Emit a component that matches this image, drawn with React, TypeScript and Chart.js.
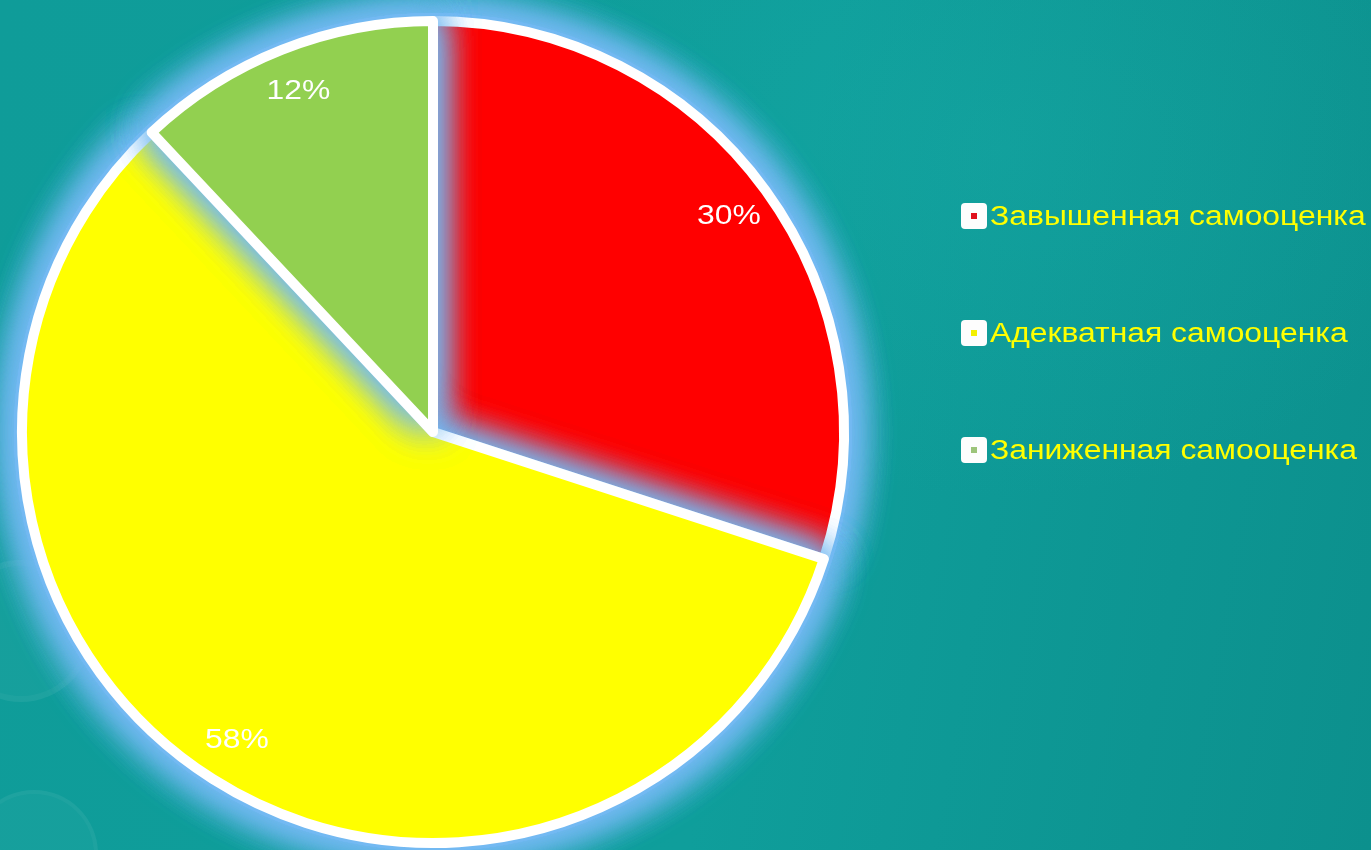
import React, { useEffect, useRef } from "react";
import { Chart, registerables } from "chart.js";

Chart.register(...registerables);

const categories = ["Завышенная самооценка", "Адекватная самооценка", "Заниженная самооценка"];
const values = [30, 58, 12];
const sliceColors = ["#ff0000", "#ffff00", "#92d050"];
const legendInnerColors = ["#e0101c", "#f4f000", "#9cc47a"];
const GLOW_COLOR = "rgba(115,185,242,1)";
const TEXT_STRETCH = 1.18;

const glowPlugin = {
  id: "glowSlices",
  beforeDatasetDraw(chart: any, args: any) {
    const ctx = chart.ctx;
    const meta = args.meta;
    meta.data.forEach((arc: any) => {
      const p = arc.getProps(["x", "y", "startAngle", "endAngle", "outerRadius"], true);
      const bw = arc.options.borderWidth || 0;
      ctx.save();
      ctx.shadowColor = GLOW_COLOR;
      ctx.shadowBlur = 40;
      ctx.shadowOffsetX = 0;
      ctx.shadowOffsetY = 0;
      ctx.fillStyle = GLOW_COLOR;
      for (let k = 0; k < 4; k++) {
        ctx.beginPath();
        ctx.moveTo(p.x, p.y);
        ctx.arc(p.x, p.y, p.outerRadius + bw / 2 + 3, p.startAngle, p.endAngle);
        ctx.closePath();
        ctx.fill();
      }
      ctx.restore();
      arc.draw(ctx, chart.chartArea);
    });
    return false;
  },
};

const labelPlugin = {
  id: "sliceLabels",
  afterDatasetsDraw(chart: any) {
    const ctx = chart.ctx;
    const meta = chart.getDatasetMeta(0);
    const data = chart.data.datasets[0].data;
    meta.data.forEach((arc: any, i: number) => {
      const p = arc.getProps(["x", "y", "startAngle", "endAngle", "outerRadius"], true);
      const mid = (p.startAngle + p.endAngle) / 2;
      const r = p.outerRadius * 0.89;
      const lx = p.x + Math.cos(mid) * r;
      const ly = p.y + Math.sin(mid) * r;
      ctx.save();
      ctx.translate(lx, ly);
      ctx.scale(TEXT_STRETCH, 1);
      ctx.font = '27px "Liberation Sans", Arial, sans-serif';
      ctx.fillStyle = "#ffffff";
      ctx.textAlign = "center";
      ctx.textBaseline = "middle";
      ctx.fillText(data[i] + "%", 0, 0);
      ctx.restore();
    });
  },
};

function PieChart() {
  const ref = useRef<HTMLCanvasElement | null>(null);
  useEffect(() => {
    if (!ref.current) return;
    const chart = new Chart(ref.current, {
      type: "pie",
      data: {
        labels: categories,
        datasets: [
          {
            data: values,
            backgroundColor: sliceColors,
            borderColor: "#ffffff",
            borderWidth: 10,
            borderJoinStyle: "round",
            hoverOffset: 0,
          } as any,
        ],
      },
      options: {
        responsive: false,
        animation: false,
        devicePixelRatio: 1,
        radius: 411,
        layout: { padding: { left: 0, right: 505, top: 14, bottom: 0 } },
        plugins: {
          legend: { display: false },
          tooltip: { enabled: false },
        },
        events: [],
      } as any,
      plugins: [glowPlugin, labelPlugin],
    });
    return () => chart.destroy();
  }, []);
  return (
    <canvas
      ref={ref}
      width={1371}
      height={850}
      style={{ position: "absolute", left: 0, top: 0, width: 1371, height: 850 }}
    />
  );
}

export default function App() {
  useEffect(() => {
    document.body.style.margin = "0";
    document.body.style.overflow = "hidden";
  }, []);
  const legendTops = [216, 333, 450];
  return (
    <div
      style={{
        position: "fixed",
        left: 0,
        top: 0,
        width: 1371,
        height: 850,
        overflow: "hidden",
        background:
          "radial-gradient(ellipse 700px 500px at 1000px 150px, rgba(30,180,175,0.25), rgba(30,180,175,0) 70%), linear-gradient(100deg, #0f9c99 0%, #0f9e9b 55%, #0c908d 100%)",
      }}
    >
      <div
        style={{
          position: "absolute",
          left: -50,
          top: 560,
          width: 130,
          height: 130,
          borderRadius: "50%",
          background: "rgba(255,255,255,0.03)",
          border: "6px solid rgba(255,255,255,0.035)",
        }}
      />
      <div
        style={{
          position: "absolute",
          left: -30,
          top: 790,
          width: 120,
          height: 120,
          borderRadius: "50%",
          background: "rgba(255,255,255,0.03)",
          border: "4px solid rgba(255,255,255,0.035)",
        }}
      />
      <PieChart />
      {categories.map((c, i) => (
        <div
          key={c}
          style={{
            position: "absolute",
            left: 961,
            top: legendTops[i] - 15,
            height: 30,
            display: "flex",
            alignItems: "center",
            whiteSpace: "nowrap",
          }}
        >
          <div
            style={{
              width: 26,
              height: 26,
              borderRadius: 4,
              background: "#fdfdfd",
              position: "relative",
              flex: "0 0 auto",
            }}
          >
            <div
              style={{
                position: "absolute",
                left: 10,
                top: 10,
                width: 6,
                height: 6,
                background: legendInnerColors[i],
              }}
            />
          </div>
          <span
            style={{
              marginLeft: 3,
              color: "#ffff00",
              fontFamily: '"Liberation Sans", Arial, sans-serif',
              fontSize: 27,
              lineHeight: "30px",
              display: "inline-block",
              transform: `scaleX(${TEXT_STRETCH})`,
              transformOrigin: "left center",
            }}
          >
            {c}
          </span>
        </div>
      ))}
    </div>
  );
}
